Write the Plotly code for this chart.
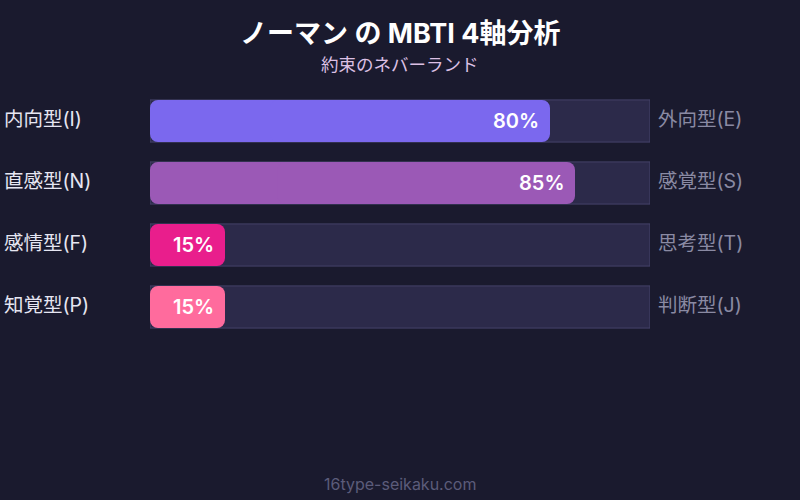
import plotly.graph_objects as go

title = "ノーマン の MBTI 4軸分析"
subtitle = "約束のネバーランド"
footer = "16type-seikaku.com"

left_labels = ["内向型(I)", "直感型(N)", "感情型(F)", "知覚型(P)"]
right_labels = ["外向型(E)", "感覚型(S)", "思考型(T)", "判断型(J)"]
scores = [80, 85, 15, 15]
bar_colors = ["#7b68ee", "#9b59b6", "#e91e8c", "#ff6b9d"]

FONT = "Inter, 'Noto Sans CJK JP', sans-serif"
BG = "#1a1a2e"
W = 0.68

rows = list(range(len(left_labels)))

fig = go.Figure()

# background track
fig.add_trace(go.Bar(
    x=[100] * len(rows), y=rows, orientation="h", width=W, offset=-W / 2,
    marker=dict(color="#2c2a4a", line=dict(color="#45436a", width=1), cornerradius=0),
    hoverinfo="skip", showlegend=False,
))

# filled part: plotly only rounds the end away from the base, so the bar is
# drawn as two overlapping halves, one growing left and one growing right
fig.add_trace(go.Bar(
    x=[-s * 0.7 for s in scores], base=[s * 0.7 for s in scores], y=rows,
    orientation="h", width=W, offset=-W / 2,
    marker=dict(color=bar_colors, line=dict(width=0), cornerradius=8),
    hoverinfo="skip", showlegend=False,
))
fig.add_trace(go.Bar(
    x=[s * 0.7 for s in scores], base=[s * 0.3 for s in scores], y=rows,
    orientation="h", width=W, offset=-W / 2,
    marker=dict(color=bar_colors, line=dict(width=0), cornerradius=8),
    hoverinfo="skip", showlegend=False,
))

annotations = []
for i in rows:
    annotations.append(dict(
        x=scores[i], y=i, xref="x", yref="y", text=f"{scores[i]}%",
        xanchor="right", xshift=-9, showarrow=False,
        font=dict(family=FONT, size=20, color="#ffffff", weight=600),
    ))
    annotations.append(dict(
        x=-0.296, y=i, xref="paper", yref="y", text=left_labels[i],
        xanchor="left", yshift=2, showarrow=False,
        font=dict(family=FONT, size=19.5, color="#e6e6f2", weight=400),
    ))
    annotations.append(dict(
        x=1.012, y=i, xref="paper", yref="y", text=right_labels[i],
        xanchor="left", yshift=2, showarrow=False,
        font=dict(family=FONT, size=19.5, color="#8a8aa3", weight=400),
    ))

annotations.append(dict(
    x=0.5, y=33, xref="paper", yref="paper", text=title,
    showarrow=False, yanchor="middle",
    font=dict(family=FONT, size=27, color="#ffffff", weight=700),
))
annotations.append(dict(
    x=0.5, y=64, xref="paper", yref="paper", text=subtitle,
    showarrow=False, yanchor="middle", font=dict(family=FONT, size=17.5, color="#dcc0e4"),
))
annotations.append(dict(
    x=0.5, y=484, xref="paper", yref="paper", text=footer,
    showarrow=False, yanchor="middle", font=dict(family=FONT, size=16, color="#5c5c7a"),
))

# convert pixel y positions of header/footer texts to paper coordinates
plot_top, plot_bottom = 90, 338
for a in annotations[-3:]:
    a["y"] = (plot_bottom - a["y"]) / (plot_bottom - plot_top)

fig.update_layout(
    width=800, height=500,
    paper_bgcolor=BG, plot_bgcolor=BG,
    margin=dict(l=150, r=150, t=plot_top, b=500 - plot_bottom),
    barmode="group",
    xaxis=dict(range=[0, 100], visible=False, fixedrange=True),
    yaxis=dict(range=[3.5, -0.5], visible=False, fixedrange=True),
    annotations=annotations,
    font=dict(family=FONT),
)

fig.write_html(
    "out.html",
    config={"displayModeBar": False},
    post_script="document.body.style.margin='0';document.body.style.background='%s';" % BG,
)
